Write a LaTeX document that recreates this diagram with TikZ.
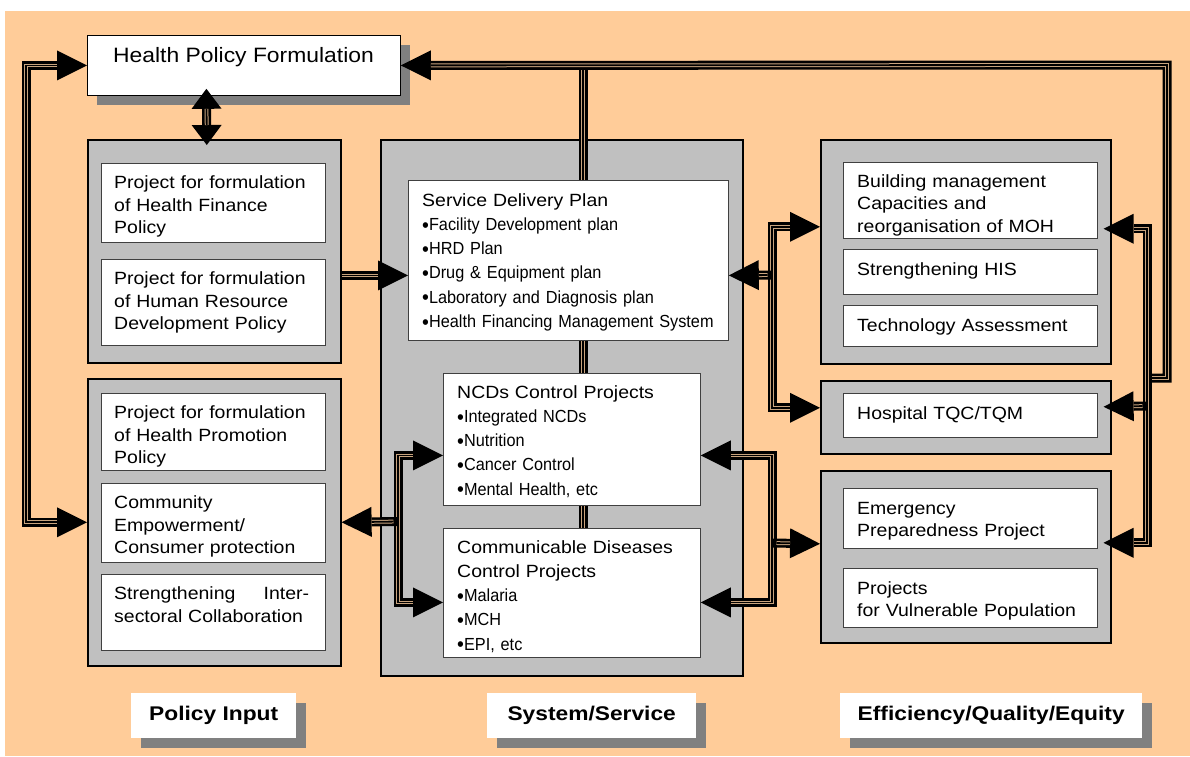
\documentclass[tikz,border=0pt]{standalone}
\usepackage{fontspec}
\setmainfont{Liberation Sans}
\newfontfamily\bodyfam[FakeStretch=1.1]{Liberation Sans}
\newfontfamily\bulfam[FakeStretch=0.93]{Liberation Sans}
\newfontfamily\capfam[FakeStretch=1.15]{Liberation Sans}
\usetikzlibrary{arrows.meta,shadows}

\definecolor{bgorange}{HTML}{FFCC99}
\definecolor{panelgray}{HTML}{C0C0C0}
\definecolor{shadegray}{HTML}{808080}
\definecolor{pipegap}{HTML}{C9A47E}

% text styles
\newcommand\boxfont{\bodyfam\fontsize{17.7}{22.6}\selectfont}
\newcommand\midfont{\bodyfam\fontsize{17.7}{24.2}\selectfont}
\newcommand\firstline{\rule{0pt}{14pt}}
\newcommand\bulline[1]{{\bulfam\fontsize{17.5}{24.2}\selectfont
  \raisebox{-1.8pt}{\fontsize{21}{24.2}\selectfont\textbullet}#1}}

% a triple-walled pipe: black body, thin light gaps, black core
\newcommand\pipe[3]{%
  \draw[pipeouter,#1] #3;
  \draw[pipegapst,#2] #3;
  \draw[pipecore,#2] #3;}

\tikzset{
  BigTri/.tip={Triangle[length=30pt,width=30pt,line width=0pt]},
  SmallTri/.tip={Triangle[length=20pt,width=30pt,line width=0pt]},
  panel/.style={draw=black, line width=1.6pt, fill=panelgray, anchor=north west, inner sep=0pt},
  wbox/.style={draw=black!75, line width=0.8pt, fill=white, anchor=north west, inner sep=0pt},
  boxtext/.style={anchor=north west, inner sep=0pt, align=left, font=\boxfont},
  midtext/.style={boxtext, font=\midfont},
  shade/.style={drop shadow={shadow xshift=10pt, shadow yshift=-10pt, fill=shadegray, opacity=1}},
  capbox/.style={fill=white, anchor=north west, inner sep=0pt, shade,
    font=\capfam\bfseries\fontsize{19.8}{22}\selectfont},
  pipeouter/.style={draw=black, line width=9pt},
  pipegapst/.style={draw=pipegap, line width=3.8pt},
  pipecore/.style={draw=black, line width=1.8pt},
}

\begin{document}
\begin{tikzpicture}[x=1pt,y=-1pt]
\useasboundingbox (0,0) rectangle (1190,756);
\fill[bgorange] (5,11) rectangle (1190,756);

% ---- panels ----
\node[panel, minimum width=253pt, minimum height=223pt] (pl1) at (87,139) {};
\node[panel, minimum width=253pt, minimum height=287pt] (pl2) at (87,378) {};
\node[panel, minimum width=362pt, minimum height=536pt] (pm) at (380,139) {};
\node[panel, minimum width=290pt, minimum height=224pt] (pr1) at (820,139) {};
\node[panel, minimum width=290pt, minimum height=73pt] (pr2) at (820,380) {};
\node[panel, minimum width=290pt, minimum height=172pt] (pr3) at (820,470) {};

% ---- top box ----
\node[wbox, draw=black, minimum width=313pt, minimum height=60pt, shade] (hpf) at (87,35) {};
\node[font=\bodyfam\fontsize{20.8}{24}\selectfont] (hpftext) at (243.5,57) {Health Policy Formulation};

% ---- bend and junction points ----
\coordinate (lbus) at (26,300);
\coordinate (rtop) at (1167,65);
\coordinate (rbj) at (1147,378);
\coordinate (rbx) at (1147,406);
\coordinate (mtop) at (583,65);
\coordinate (mbot) at (583,528);
\coordinate (lmx) at (398,521.5);
\coordinate (rmx) at (772,543);
\coordinate (smx) at (772,275);

% spine through the service column
\pipe{}{shorten <=4.5pt}{(mtop) -- (mbot)}

% ---- white boxes ----
\node[wbox, minimum width=224pt, minimum height=79pt] (lb1) at (101,163) {};
\node[wbox, minimum width=224pt, minimum height=86pt] (lb2) at (101,259) {};
\node[wbox, minimum width=224pt, minimum height=77pt] (lb3) at (101,393) {};
\node[wbox, minimum width=224pt, minimum height=79pt] (lb4) at (101,483) {};
\node[wbox, minimum width=224pt, minimum height=76pt] (lb5) at (101,574) {};
\node[wbox, minimum width=320pt, minimum height=160pt] (sdp) at (408,180) {};
\node[wbox, minimum width=257pt, minimum height=132pt] (ncd) at (443,373) {};
\node[wbox, minimum width=257pt, minimum height=129pt] (cd) at (443,528) {};
\node[wbox, minimum width=254pt, minimum height=76pt] (rb1) at (843,162) {};
\node[wbox, minimum width=254pt, minimum height=45pt] (rb2) at (843,249) {};
\node[wbox, minimum width=254pt, minimum height=41pt] (rb3) at (843,305) {};
\node[wbox, minimum width=254pt, minimum height=44pt] (rb4) at (843,393) {};
\node[wbox, minimum width=254pt, minimum height=60pt] (rb5) at (843,488) {};
\node[wbox, minimum width=254pt, minimum height=59pt] (rb6) at (843,568) {};

% ---- box texts (first baseline about 25pt below the box top) ----
\node[boxtext, text width=198pt] (lb1t) at ([xshift=13pt,yshift=-11.5pt]lb1.north west)
  {\firstline Project for formulation\\of Health Finance\\Policy};
\node[boxtext, text width=198pt] (lb2t) at ([xshift=13pt,yshift=-11.5pt]lb2.north west)
  {\firstline Project for formulation\\of Human Resource\\Development Policy};
\node[boxtext, text width=198pt] (lb3t) at ([xshift=13pt,yshift=-11.5pt]lb3.north west)
  {\firstline Project for formulation\\of Health Promotion\\Policy};
\node[boxtext, text width=198pt] (lb4t) at ([xshift=13pt,yshift=-11.5pt]lb4.north west)
  {\firstline Community\\Empowerment/\\Consumer protection};
\node[boxtext, text width=195pt] (lb5t) at ([xshift=13pt,yshift=-11.5pt]lb5.north west)
  {\firstline Strengthening\hfill Inter-\\sectoral Collaboration};

\node[midtext, text width=294pt] (sdpt) at ([xshift=14pt,yshift=-12pt]sdp.north west)
  {\firstline Service Delivery Plan\\
   \bulline{Facility Development plan}\\
   \bulline{HRD Plan}\\
   \bulline{Drug \& Equipment plan}\\
   \bulline{Laboratory and Diagnosis plan}\\
   \bulline{Health Financing Management System}};
\node[midtext, text width=229pt] (ncdt) at ([xshift=14pt,yshift=-11pt]ncd.north west)
  {\firstline NCDs Control Projects\\
   \bulline{Integrated NCDs}\\
   \bulline{Nutrition}\\
   \bulline{Cancer Control}\\
   \bulline{Mental Health, etc}};
\node[midtext, text width=229pt] (cdt) at ([xshift=14pt,yshift=-11pt]cd.north west)
  {\firstline Communicable Diseases\\
   Control Projects\\
   \bulline{Malaria}\\
   \bulline{MCH}\\
   \bulline{EPI, etc}};

\node[boxtext, text width=226pt] (rb1t) at ([xshift=14pt,yshift=-11pt]rb1.north west)
  {\firstline Building management\\Capacities and\\reorganisation of MOH};
\node[boxtext, text width=226pt] (rb2t) at ([xshift=14pt,yshift=-12pt]rb2.north west)
  {\firstline Strengthening HIS};
\node[boxtext, text width=226pt] (rb3t) at ([xshift=14pt,yshift=-12pt]rb3.north west)
  {\firstline Technology Assessment};
\node[boxtext, text width=226pt] (rb4t) at ([xshift=14pt,yshift=-12pt]rb4.north west)
  {\firstline Hospital TQC/TQM};
\node[boxtext, text width=226pt] (rb5t) at ([xshift=14pt,yshift=-12pt]rb5.north west)
  {\firstline Emergency\\Preparedness Project};
\node[boxtext, text width=226pt] (rb6t) at ([xshift=14pt,yshift=-12pt]rb6.north west)
  {\firstline Projects\\for Vulnerable Population};

% ---- column captions ----
\node[capbox, minimum width=165pt, minimum height=45pt] (cap1) at (131,693) {Policy Input};
\node[capbox, minimum width=209pt, minimum height=45pt] (cap2) at (487,693) {System/Service};
\node[capbox, minimum width=302pt, minimum height=45pt] (cap3) at (840,693) {Efficiency/Quality/Equity};

% ---- arrow end points ----
\coordinate (sdpL) at ([yshift=-15pt]sdp.west);
\coordinate (sdpR) at ([yshift=-15pt]sdp.east);
\coordinate (ncdL) at ([yshift=-16pt]ncd.west);
\coordinate (ncdR) at ([yshift=-16pt]ncd.east);
\coordinate (cdL) at ([yshift=-9.5pt]cd.west);
\coordinate (cdR) at ([yshift=-9.5pt]cd.east);
\coordinate (pr1L) at ([yshift=25pt]pr1.west);
\coordinate (pr2L) at ([yshift=9.5pt]pr2.west);
\coordinate (pr3L) at ([yshift=13pt]pr3.west);
\coordinate (pr1R) at ([xshift=-8pt,yshift=23pt]pr1.east);
\coordinate (pr2R) at ([xshift=-8pt,yshift=10.5pt]pr2.east);
\coordinate (pr3R) at ([xshift=-8pt,yshift=14pt]pr3.east);

% ---- connectors ----
% policy formulation <-> health promotion column (left loop)
\pipe{BigTri-BigTri}{shorten <=30pt,shorten >=30pt}{(hpf.west) -| (lbus) |- (pl2.west)}
% policy formulation <-> finance / HR projects
\pipe{SmallTri-SmallTri}{shorten <=20pt,shorten >=20pt}
  {([xshift=-37.5pt,yshift=7pt]hpf.south) -- ([xshift=-7.5pt,yshift=-6pt]pl1.north)}
% feedback loop on the right back to policy formulation
\pipe{-BigTri}{shorten <=4.5pt,shorten >=30pt}{(rbj) -| (rtop) -- (hpf.east)}
% policy input -> service delivery plan
\pipe{-BigTri}{shorten >=30pt}{(pl1.east |- sdpL) -- (sdpL)}
% left bus between disease projects and policy input
\pipe{BigTri-BigTri}{shorten <=30pt,shorten >=30pt}{(ncdL) -| (lmx) |- (cdL)}
\pipe{-BigTri}{shorten <=4.5pt,shorten >=30pt}{(lmx) -- (pl2.east)}
% right bus between disease projects and emergency / vulnerable
\pipe{BigTri-BigTri}{shorten <=30pt,shorten >=30pt}{(ncdR) -| (rmx) |- (cdR)}
\pipe{-BigTri}{shorten <=4.5pt,shorten >=30pt}{(rmx) -- (pr3L)}
% service delivery plan <-> management / hospital quality
\pipe{BigTri-BigTri}{shorten <=30pt,shorten >=30pt}{(pr1L) -| (smx) |- (pr2L)}
\pipe{-BigTri}{shorten <=4.5pt,shorten >=30pt}{(smx) -- (sdpR)}
% outer right bus
\pipe{BigTri-BigTri}{shorten <=30pt,shorten >=30pt}{(pr1R) -| (rbx) |- (pr3R)}
\pipe{-BigTri}{shorten <=4.5pt,shorten >=30pt}{(rbx) -- (pr2R)}
\end{tikzpicture}
\end{document}
